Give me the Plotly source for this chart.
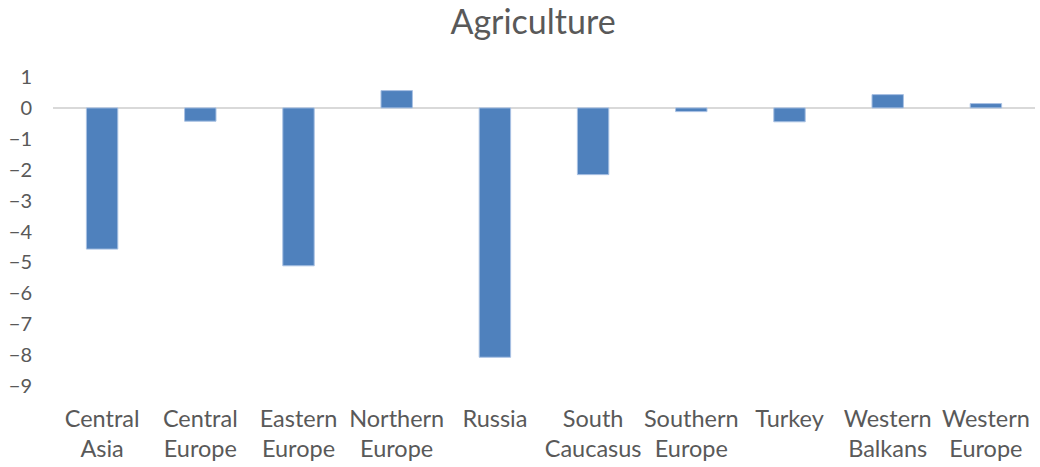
import plotly.graph_objects as go

regions = ["Central<br>Asia", "Central<br>Europe", "Eastern<br>Europe", "Northern<br>Europe",
           "Russia", "South<br>Caucasus", "Southern<br>Europe", "Turkey",
           "Western<br>Balkans", "Western<br>Europe"]
change = [-4.57, -0.43, -5.11, 0.56, -8.07, -2.16, -0.12, -0.45, 0.43, 0.14]
y_ticks = [1, 0, -1, -2, -3, -4, -5, -6, -7, -8, -9]

fig = go.Figure(go.Bar(
    x=regions, y=change,
    marker=dict(color="#4f81bd", line=dict(color="#a9c1e3", width=1)),
    width=0.32,
))

fig.update_layout(
    width=1040, height=467,
    margin=dict(l=53, r=5, t=77, b=79),
    paper_bgcolor="white", plot_bgcolor="white",
    font=dict(family="Lato, Open Sans, sans-serif", size=20, color="#595959"),
    title=dict(text="Agriculture", x=0.5125, xanchor="center", y=0.952, yanchor="middle",
               font=dict(size=34, color="#595959")),
    showlegend=False,
    bargap=0.68,
)
fig.update_xaxes(showgrid=False, showline=False, ticks="", ticklabelstandoff=16,
                 tickfont=dict(size=23.5, color="#595959"))
fig.update_yaxes(range=[-9, 1], tickvals=y_ticks, showgrid=False, zeroline=True,
                 zerolinecolor="#d9d9d9", zerolinewidth=2, showline=False,
                 tickfont=dict(size=20, color="#595959"), ticklabelstandoff=20)

fig.write_html("out.html")
